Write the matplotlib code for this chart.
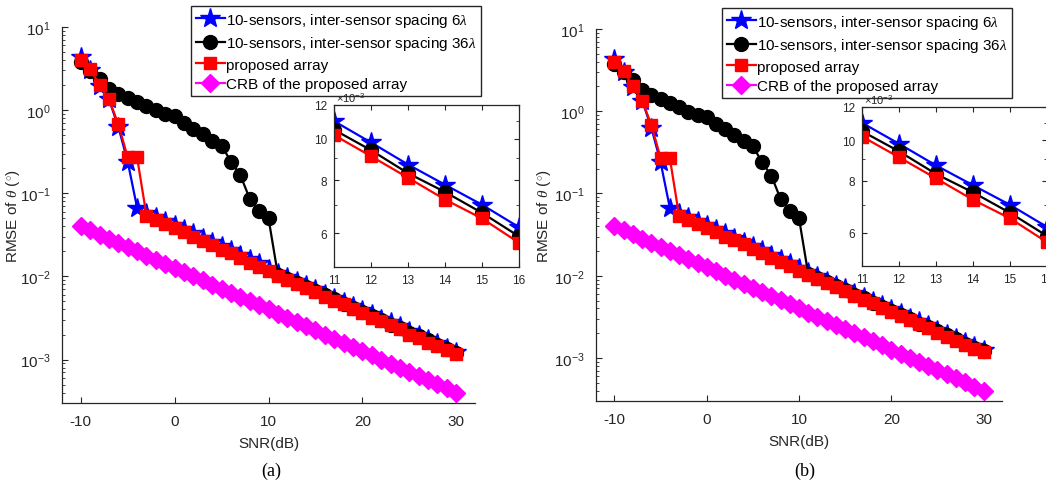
import numpy as np
import matplotlib.pyplot as plt
from matplotlib.ticker import FixedLocator, FixedFormatter, NullFormatter, LogLocator

plt.rcParams['font.family'] = ['Liberation Sans', 'DejaVu Sans']
plt.rcParams['mathtext.fontset'] = 'custom'
plt.rcParams['mathtext.rm'] = 'Liberation Sans'
plt.rcParams['mathtext.it'] = 'Liberation Serif:italic'
plt.rcParams['mathtext.bf'] = 'Liberation Sans:bold'
plt.rcParams['axes.unicode_minus'] = False

# ---------------- data ----------------
snr = list(range(-10, 31))

rmse_6lam = [4.3, 3.0, 1.95, 1.35, 0.63, 0.24, 0.067, 0.058, 0.052, 0.046,
             0.041, 0.037, 0.033, 0.029, 0.026, 0.023, 0.0205, 0.018, 0.016, 0.0143,
             0.0124, 0.0110, 0.0098, 0.0087, 0.0078, 0.0070, 0.0062, 0.0055, 0.0049, 0.0044,
             0.0039, 0.0035, 0.0031, 0.0028, 0.0025, 0.0022, 0.00196, 0.00175, 0.00156, 0.00139,
             0.00124]

rmse_36lam = [3.8, 2.96, 2.37, 1.8, 1.57, 1.39, 1.25, 1.12, 0.99, 0.90,
              0.85, 0.70, 0.60, 0.52, 0.43, 0.375, 0.24, 0.165, 0.086, 0.062,
              0.050, 0.0105, 0.0094, 0.0083, 0.0075, 0.0067, 0.0059, 0.0053, 0.0047, 0.0042,
              0.0037, 0.0033, 0.0030, 0.0026, 0.0024, 0.0021, 0.0019, 0.0017, 0.0015, 0.00134,
              0.0012]

rmse_prop = [4.0, 3.1, 2.0, 1.35, 0.68, 0.27, 0.27, 0.054, 0.048, 0.043,
             0.038, 0.034, 0.030, 0.027, 0.024, 0.021, 0.019, 0.0165, 0.0146, 0.013,
             0.0115, 0.0102, 0.0091, 0.0081, 0.0072, 0.0065, 0.0057, 0.0051, 0.0046, 0.0041,
             0.0036, 0.0032, 0.0029, 0.0026, 0.0023, 0.0020, 0.0018, 0.0016, 0.00145, 0.0013,
             0.00117]

crb_prop = [0.040, 0.0357, 0.0318, 0.0283, 0.0252, 0.0225, 0.0200, 0.0178, 0.0159, 0.0142,
            0.0126, 0.0113, 0.0100, 0.00895, 0.00798, 0.00711, 0.00634, 0.00565, 0.00504, 0.00449,
            0.0040, 0.00357, 0.00318, 0.00283, 0.00252, 0.00225, 0.0020, 0.00178, 0.00159, 0.00142,
            0.00126, 0.00113, 0.0010, 0.000895, 0.000798, 0.000711, 0.000634, 0.000565, 0.000504, 0.000449,
            0.0004]

labels = [r'10-sensors, inter-sensor spacing 6$\lambda$',
          r'10-sensors, inter-sensor spacing 36$\lambda$',
          'proposed array',
          'CRB of the proposed array']

inset_ticks = [6e-3, 8e-3, 10e-3, 12e-3]
inset_tick_labels = ['6', '8', '10', '12']
inset_minor = [5e-3, 7e-3, 9e-3, 11e-3]

# ---------------- style ----------------
series = [(rmse_6lam, '#0000ff', '*', 15),
          (rmse_36lam, '#000000', 'o', 10),
          (rmse_prop, '#ff0000', 's', 9),
          (crb_prop, '#ff00ff', 'D', 9)]
axcol = '#262626'

W, H = 1046, 481
fig = plt.figure(figsize=(W / 100, H / 100), dpi=100)


def frac(l, t, r, b):
    return [l / W, (H - b) / H, (r - l) / W, (b - t) / H]


panels = [
    dict(main=frac(62, 28, 475, 404), inset=frac(334, 106, 519, 268),
         leg=(191 / W, (H - 7) / H), cap='(a)', capx=271 / W, ylx=-0.097),
    dict(main=frac(596, 30, 1002, 402), inset=frac(862, 108, 1047, 267),
         leg=(722 / W, (H - 9) / H), cap='(b)', capx=805 / W, ylx=-0.106),
]

for p in panels:
    ax = fig.add_axes(p['main'])
    for (y, c, m, ms), lab in zip(series, labels):
        ax.plot(snr, y, color=c, marker=m, markersize=ms, linewidth=1.6,
                label=lab)
    ax.set_yscale('log')
    ax.set_xlim(-12, 32)
    ax.set_ylim(3e-4, 10)
    ax.set_xticks([-10, 0, 10, 20, 30])
    ax.yaxis.set_major_locator(LogLocator(base=10, numticks=10))
    ax.yaxis.set_minor_locator(LogLocator(base=10, subs=np.arange(2, 10), numticks=10))
    ax.yaxis.set_minor_formatter(NullFormatter())
    ax.spines['top'].set_visible(False)
    ax.spines['right'].set_visible(False)
    for s in ['left', 'bottom']:
        ax.spines[s].set_color(axcol)
        ax.spines[s].set_linewidth(0.9)
    ax.tick_params(which='both', direction='in', colors=axcol, labelsize=11)
    ax.tick_params(which='major', length=4.5, pad=8)
    ax.tick_params(which='minor', length=2.5)
    ax.set_xlabel('SNR(dB)', fontsize=11, color=axcol, labelpad=6)
    ax.set_ylabel(r'RMSE of $\theta$ ($^{\circ}$)', fontsize=11, color=axcol)
    ax.yaxis.set_label_coords(p['ylx'], 0.5)

    leg = ax.legend(loc='upper left', bbox_to_anchor=p['leg'],
                    bbox_transform=fig.transFigure, borderaxespad=0,
                    fontsize=11, frameon=True, fancybox=False,
                    edgecolor=axcol, framealpha=1, handlelength=1.9,
                    handletextpad=0.1, labelspacing=0.36, borderpad=0.3)
    leg.get_frame().set_linewidth(1.0)

    # zoomed inset: SNR 11..16 dB
    ins = fig.add_axes(p['inset'])
    i0, i1 = snr.index(11), snr.index(16) + 1
    for (y, c, m, ms) in series[:3]:
        ins.plot(snr[i0:i1], y[i0:i1], color=c, marker=m, markersize=ms,
                 linewidth=1.6)
    ins.set_yscale('log')
    ins.set_xlim(11, 16)
    ins.set_ylim(5e-3, 12e-3)
    ins.set_xticks(range(11, 17))
    ins.yaxis.set_major_locator(FixedLocator(inset_ticks))
    ins.yaxis.set_major_formatter(FixedFormatter(inset_tick_labels))
    ins.yaxis.set_minor_locator(FixedLocator(inset_minor))
    ins.yaxis.set_minor_formatter(NullFormatter())
    for s in ins.spines.values():
        s.set_color(axcol)
        s.set_linewidth(0.9)
    ins.tick_params(which='both', direction='in', colors=axcol, labelsize=8.5,
                    top=True, right=True)
    ins.tick_params(which='major', length=3.5, pad=5)
    ins.tick_params(which='minor', length=2)
    ins.text(0.01, 1.005, r'$\times$10$^{-3}$', transform=ins.transAxes,
             fontsize=8, color=axcol, ha='left', va='bottom')

    fig.text(p['capx'], 0.021, p['cap'], family='Liberation Serif',
             fontsize=13, ha='center', va='center', color='k')

fig.savefig('out.png', dpi=100)
